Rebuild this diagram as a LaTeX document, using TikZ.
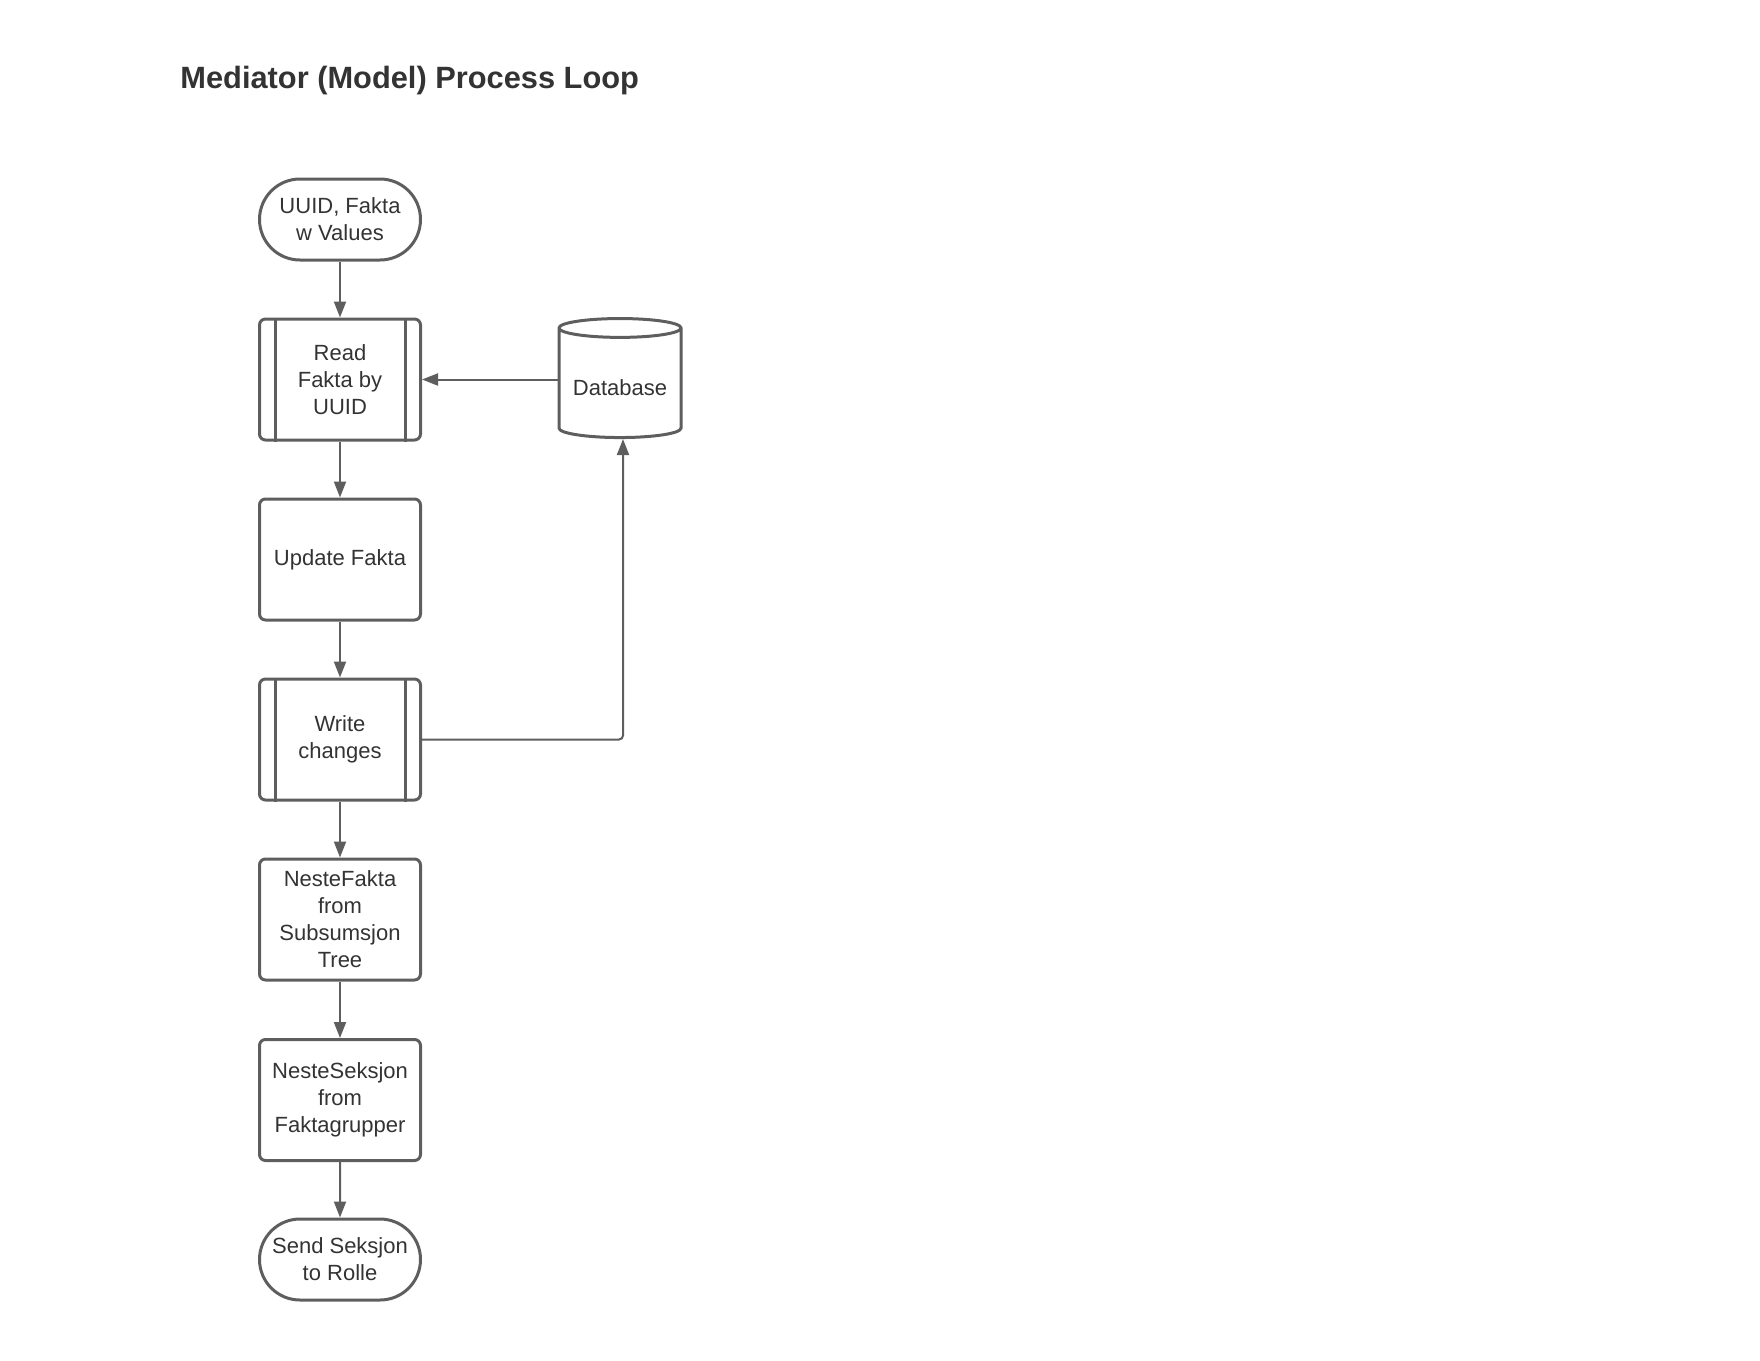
\documentclass[tikz,border=0pt]{standalone}
\usepackage{fontspec}
\setmainfont{Liberation Sans}
\usetikzlibrary{arrows.meta,shapes.misc,shapes.geometric}

\definecolor{edgegray}{HTML}{5E5E5E}
\definecolor{textgray}{HTML}{333333}

\tikzset{
	every box/.style={draw=edgegray, line width=1.5pt, text=textgray, align=center,
		font=\fontsize{11}{13.5}\selectfont, inner sep=0pt},
	procbox/.style={every box, rectangle, rounded corners=3pt,
		minimum width=80.5pt, minimum height=60.5pt},
	subbox/.style={procbox,
		append after command={
			\pgfextra{\draw[edgegray, line width=1.5pt]
				([xshift=8.5pt]\tikzlastnode.north west) -- ([xshift=8.5pt]\tikzlastnode.south west)
				([xshift=-8.5pt]\tikzlastnode.north east) -- ([xshift=-8.5pt]\tikzlastnode.south east);}}},
	termbox/.style={every box, rounded rectangle,
		minimum width=80.5pt, minimum height=40.5pt},
	dbbox/.style={every box, cylinder, shape border rotate=90, aspect=0.2,
		minimum width=61pt, minimum height=59.5pt, text height=12pt},
	flow/.style={draw=edgegray, line width=1pt, -{Triangle[length=8pt, width=6pt]}}
}

\begin{document}
\begin{tikzpicture}[x=0.5pt, y=-0.5pt]
		\useasboundingbox (0,0) rectangle (1760,1360);
		
		\node [anchor=base west, font=\fontsize{15.4}{18}\selectfont\bfseries, text=textgray, inner sep=0pt]
		(title) at (180,88) {Mediator (Model) Process Loop};
		
		\node [termbox] (start) at (340,219.5) {UUID, Fakta\\w Values};
		\node [subbox] (read) at (340,379.5) {Read\\Fakta by\\UUID};
		\node [procbox] (update) at (340,559.5) {Update Fakta};
		\node [subbox] (write) at (340,739.5) {Write\\changes};
		\node [procbox] (nextfakta) at (340,919.5) {NesteFakta\\from\\Subsumsjon\\Tree};
		\node [procbox] (nextseksjon) at (340,1100) {NesteSeksjon\\from\\Faktagrupper};
		\node [termbox] (send) at (340,1259.5) {Send Seksjon\\to Rolle};
		
		\node [dbbox] (db) at (620,383.5) {Database};
		
		\foreach \a/\b in {start/read, read/update, update/write, write/nextfakta,
			nextfakta/nextseksjon, nextseksjon/send}
		\draw [flow] (\a) -- (\b);
		
		\draw [flow] (db.west |- read.east) -- (read.east);
		\draw [flow, rounded corners=2pt] (write.east) -| ([xshift=1.5pt]db.south);
		
		\end{tikzpicture}
\end{document}
